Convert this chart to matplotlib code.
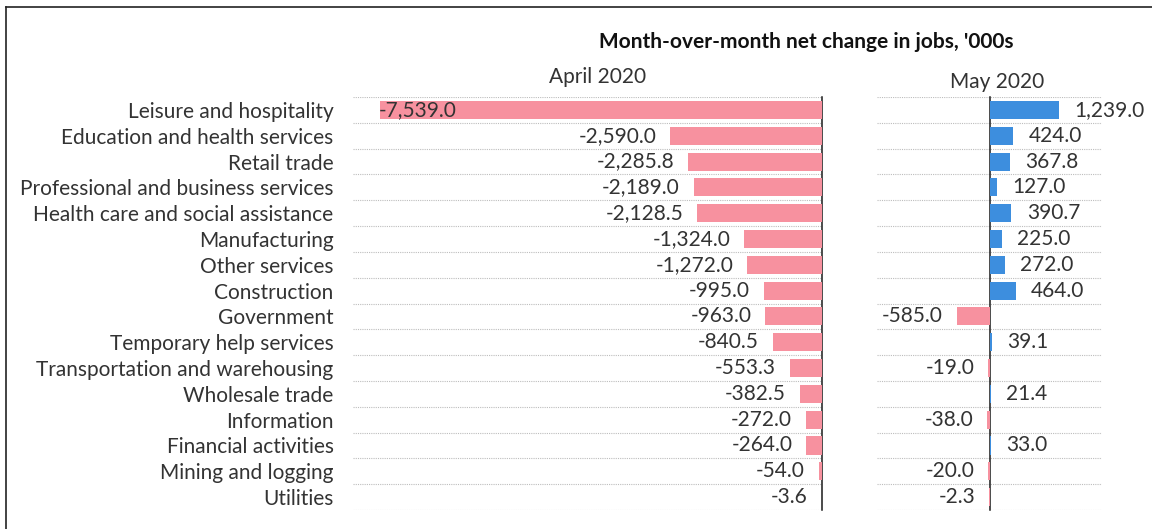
import matplotlib.pyplot as plt
import numpy as np

categories = [
    "Leisure and hospitality",
    "Education and health services",
    "Retail trade",
    "Professional and business services",
    "Health care and social assistance",
    "Manufacturing",
    "Other services",
    "Construction",
    "Government",
    "Temporary help services",
    "Transportation and warehousing",
    "Wholesale trade",
    "Information",
    "Financial activities",
    "Mining and logging",
    "Utilities",
]
april_2020 = [-7539.0, -2590.0, -2285.8, -2189.0, -2128.5, -1324.0, -1272.0, -995.0,
              -963.0, -840.5, -553.3, -382.5, -272.0, -264.0, -54.0, -3.6]
may_2020 = [1239.0, 424.0, 367.8, 127.0, 390.7, 225.0, 272.0, 464.0,
            -585.0, 39.1, -19.0, 21.4, -38.0, 33.0, -20.0, -2.3]

PINK = "#F7919F"
BLUE = "#3D8EDE"
TXT = "#333333"
FS = 15

plt.rcParams['font.family'] = ["Lato", 'DejaVu Sans']

fig = plt.figure(figsize=(11.52, 5.29), dpi=100)
ax1 = fig.add_axes([0.3064, 0.0359, 0.4071, 0.7807])
ax2 = fig.add_axes([0.7613, 0.0359, 0.1953, 0.7807])

y = np.arange(len(categories))


def style_panel(ax, xlim):
    ax.set_xlim(*xlim)
    ax.set_ylim(len(categories) - 0.5, -0.5)
    for k in range(len(categories) + 1):
        ax.axhline(k - 0.5, color="#BDBDBD", lw=0.8, ls=(0, (1, 1)), zorder=0)
    ax.axvline(0, color="#1a1a1a", lw=1.1, zorder=1, clip_on=False)
    for s in ax.spines.values():
        s.set_visible(False)
    ax.set_xticks([])
    ax.tick_params(axis="y", length=0)


def label_bars(ax, values, xlim):
    for yi, v in zip(y, values):
        txt = f"{v:,.1f}"
        if v < 0:
            if v < xlim[0] * 0.9:
                # no room outside: Excel pushes it inside the bar
                ax.annotate(txt, (v, yi), xytext=(-1, 0), textcoords="offset points",
                            ha="left", va="center", fontsize=FS, color=TXT)
            else:
                ax.annotate(txt, (v, yi), xytext=(-10, 0), textcoords="offset points",
                            ha="right", va="center", fontsize=FS, color=TXT)
        else:
            ax.annotate(txt, (v, yi), xytext=(11, 0), textcoords="offset points",
                        ha="left", va="center", fontsize=FS, color=TXT)


# April panel
ax1.barh(y, april_2020, height=0.7, color=PINK, zorder=2)
style_panel(ax1, (-8000, 0))
ax1.set_yticks(y)
ax1.set_yticklabels(categories, fontsize=FS, color=TXT)
ax1.tick_params(axis="y", pad=14)
label_bars(ax1, april_2020, (-8000, 0))

# May panel
colors = [BLUE if v > 0 else PINK for v in may_2020]
ax2.barh(y, may_2020, height=0.7, color=colors, zorder=2)
style_panel(ax2, (-2000, 2000))
ax2.set_yticks([])
label_bars(ax2, may_2020, (-2000, 2000))

fig.text(0.5191, 0.855, "April 2020", ha="center", va="center", fontsize=FS, color=TXT)
fig.text(0.8655, 0.845, "May 2020", ha="center", va="center", fontsize=FS, color=TXT)
fig.text(0.70, 0.92, "Month-over-month net change in jobs, '000s", ha="center", va="center",
         fontsize=FS, fontweight="bold", color="#111111")

# frame lines (top and left)
fig.add_artist(plt.Line2D([0.0055, 1.0], [0.987, 0.987], color="#222222", lw=1.2))
fig.add_artist(plt.Line2D([0.0055, 0.0055], [0.0, 0.987], color="#222222", lw=1.2))

fig.savefig("out.png", dpi=100, facecolor="white")
